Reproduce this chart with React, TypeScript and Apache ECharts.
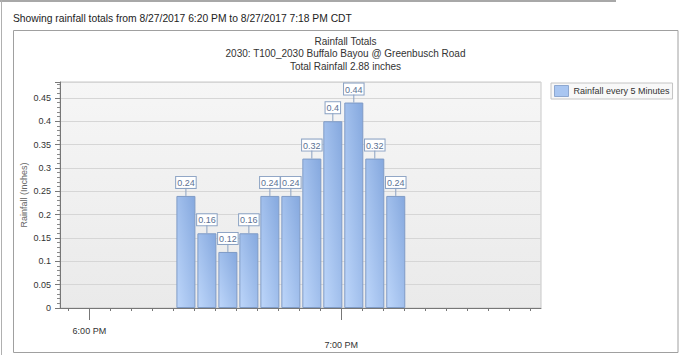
import React, { useEffect, useRef } from "react";
import * as echarts from "echarts";

const headerText = "Showing rainfall totals from 8/27/2017 6:20 PM to 8/27/2017 7:18 PM CDT";
const chartTitle = "Rainfall Totals";
const stationName = "2030: T100_2030 Buffalo Bayou @ Greenbusch Road";
const seriesName = "Rainfall every 5 Minutes";
const yAxisName = "Rainfall (Inches)";

const times = ["6:23 PM", "6:28 PM", "6:33 PM", "6:38 PM", "6:43 PM", "6:48 PM", "6:53 PM", "6:58 PM", "7:03 PM", "7:08 PM", "7:13 PM"];
const rainfall = [0.24, 0.16, 0.12, 0.16, 0.24, 0.24, 0.32, 0.4, 0.44, 0.32, 0.24];

const xMajorTicks = ["6:00 PM", "7:00 PM"];
const xMinorTicks = ["5:55 PM", "6:00 PM", "6:05 PM", "6:10 PM", "6:15 PM", "6:20 PM", "6:25 PM", "6:30 PM", "6:35 PM", "6:40 PM", "6:45 PM", "6:50 PM", "6:55 PM", "7:00 PM", "7:05 PM", "7:10 PM", "7:15 PM", "7:20 PM", "7:25 PM", "7:30 PM", "7:35 PM", "7:40 PM", "7:45 PM"];
const xRange = ["5:53 PM", "7:47.6 PM"];
const yMax = 0.484;
const yInterval = 0.05;

const FONT = "'Liberation Sans', Arial, sans-serif";

function toMinutes(t: string): number {
  const [hm, ampm] = t.split(" ");
  const [h, m] = hm.split(":");
  let hh = parseInt(h, 10) % 12;
  if (ampm === "PM") hh += 12;
  return hh * 60 + parseFloat(m);
}

function fmtMinutes(v: number): string {
  const hh = Math.floor(v / 60);
  const mm = Math.round(v - hh * 60);
  const h12 = hh % 12 === 0 ? 12 : hh % 12;
  return `${h12}:${mm < 10 ? "0" + mm : mm} ${hh >= 12 ? "PM" : "AM"}`;
}

export default function App() {
  const ref = useRef<HTMLDivElement>(null);
  useEffect(() => {
    if (!ref.current) return;
    const chart = echarts.init(ref.current, undefined, { renderer: "svg" });
    const total = rainfall.reduce((a, b) => a + b, 0);
    const data = times.map((t, i) => [toMinutes(t), rainfall[i]]);
    const xMin = toMinutes(xRange[0]);
    const xMax = toMinutes(xRange[1]);
    const majors = xMajorTicks.map(toMinutes);
    const minors = xMinorTicks.map(toMinutes);

    chart.setOption({
      animation: false,
      backgroundColor: "#ffffff",
      textStyle: { fontFamily: FONT },
      title: {
        text: `${chartTitle}\n${stationName}\nTotal Rainfall ${total.toFixed(2)} inches`,
        left: 345.5,
        top: 35,
        textAlign: "center",
        padding: 0,
        textStyle: { fontSize: 10, fontWeight: "normal", color: "#333", lineHeight: 12.5, fontFamily: FONT },
      },
      graphic: [
        { type: "line", shape: { x1: 0, y1: 1, x2: 616, y2: 1 }, style: { stroke: "#a8a8a8", lineWidth: 2 }, silent: true },
        { type: "line", shape: { x1: 1.5, y1: 0, x2: 1.5, y2: 355 }, style: { stroke: "#b0b0b0", lineWidth: 1 }, silent: true },
        { type: "rect", shape: { x: 13.5, y: 30.5, width: 664.5, height: 322 }, style: { fill: "none", stroke: "#a0a0a0", lineWidth: 1 }, silent: true },
        { type: "text", x: 13, y: 18, style: { text: headerText, fontSize: 10.3, fontFamily: FONT, fill: "#222", verticalAlign: "middle" }, silent: true },
      ],
      legend: {
        left: 551,
        top: 83,
        orient: "vertical",
        padding: [2, 3, 2, 3],
        itemWidth: 14,
        itemHeight: 11,
        itemGap: 0,
        backgroundColor: "#f8f8f8",
        borderColor: "#c4c4c4",
        borderWidth: 1,
        borderRadius: 0,
        icon: "rect",
        textStyle: { fontSize: 9, color: "#333", fontFamily: FONT },
        data: [{ name: seriesName, itemStyle: { color: "#a9c6f1", borderColor: "#8ea8d0", borderWidth: 1 } }],
      },
      grid: {
        left: 60,
        right: 139,
        top: 82,
        bottom: 47,
        show: true,
        borderColor: "#c8c8c8",
        borderWidth: 1,
        backgroundColor: new echarts.graphic.LinearGradient(0, 0, 0, 1, [
          { offset: 0, color: "#f6f6f6" },
          { offset: 1, color: "#eaeaea" },
        ]),
      },
      xAxis: [
        {
          type: "value",
          min: xMin,
          max: xMax,
          position: "bottom",
          splitLine: { show: false },
          axisLine: { show: true, lineStyle: { color: "#777", width: 1 } },
          axisTick: { show: true, customValues: majors, length: 12, lineStyle: { color: "#777" } },
          axisLabel: {
            customValues: majors,
            margin: 16,
            fontSize: 9,
            color: "#333",
            lineHeight: 14,
            fontFamily: FONT,
            formatter: (v: number) => (Math.round(v) === majors[1] ? "\n" : "") + fmtMinutes(v),
          },
        },
        {
          type: "value",
          min: xMin,
          max: xMax,
          position: "bottom",
          splitLine: { show: false },
          axisLine: { show: false },
          axisTick: { show: true, customValues: minors, length: 3, lineStyle: { color: "#777" } },
          axisLabel: { show: false },
        },
      ],
      yAxis: {
        type: "value",
        min: 0,
        max: yMax,
        interval: yInterval,
        name: yAxisName,
        nameLocation: "middle",
        nameGap: 32,
        nameMoveOverlap: false,
        nameTextStyle: { fontSize: 9, color: "#666", fontFamily: FONT },
        axisLine: { show: true, lineStyle: { color: "#777" } },
        axisTick: { show: true, length: 5, lineStyle: { color: "#777" } },
        minorTick: { show: true, splitNumber: 5, length: 3, lineStyle: { color: "#888" } },
        splitLine: { show: true, lineStyle: { color: "#d6d6d6" } },
        axisLabel: {
          margin: 9,
          fontSize: 9,
          color: "#333",
          fontFamily: FONT,
          showMaxLabel: false,
          formatter: (v: number) => String(+v.toFixed(2)),
        },
      },
      series: [
        {
          name: seriesName,
          type: "bar",
          xAxisIndex: 0,
          data,
          barWidth: 19,
          itemStyle: {
            color: new echarts.graphic.LinearGradient(0, 1, 1, 0, [
              { offset: 0, color: "#bdd6fa" },
              { offset: 1, color: "#85a8de" },
            ]),
            borderColor: "#7f9bc6",
            borderWidth: 1,
          },
          label: {
            show: true,
            position: "top",
            distance: 8,
            fontSize: 9,
            color: "#5b7194",
            fontFamily: FONT,
            backgroundColor: "#ffffff",
            borderColor: "#8ba2c3",
            borderWidth: 1,
            padding: [1, 1, 0, 1],
            lineHeight: 10,
            formatter: (p: any) => String(p.value[1]),
          },
        },
        {
          name: "labelLines",
          type: "custom",
          xAxisIndex: 0,
          data,
          z: 3,
          silent: true,
          renderItem: (params: any, api: any) => {
            const p = api.coord([api.value(0), api.value(1)]);
            return {
              type: "line",
              shape: { x1: p[0], y1: p[1], x2: p[0], y2: p[1] - 8 },
              style: { stroke: "#8ba2c3", lineWidth: 1 },
            };
          },
        },
      ],
    });
    return () => chart.dispose();
  }, []);
  return (
    <div
      ref={ref}
      style={{ position: "fixed", left: 0, top: 0, width: 680, height: 355, background: "#fff" }}
    />
  );
}
